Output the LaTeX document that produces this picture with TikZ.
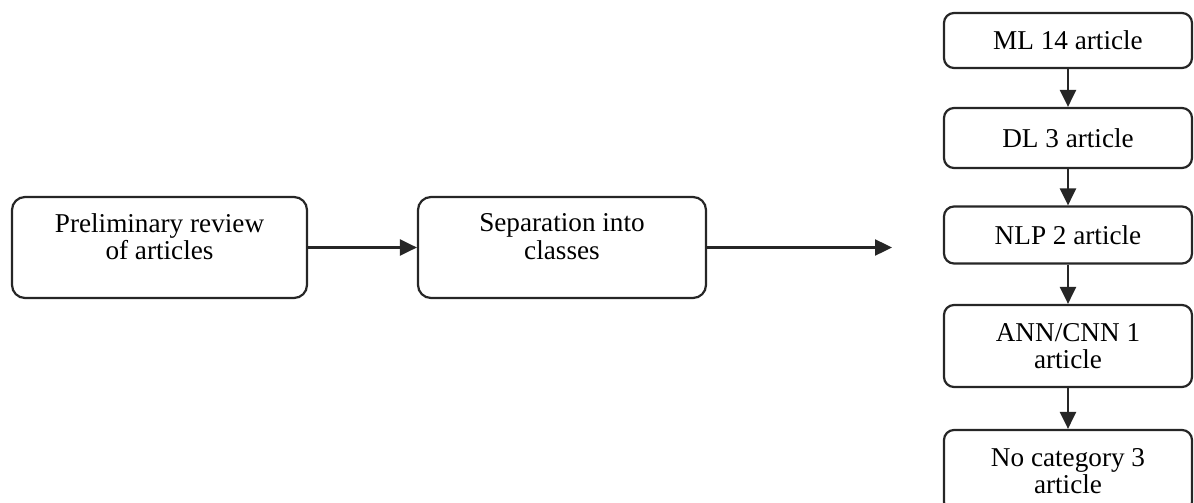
\documentclass[tikz,border=0pt]{standalone}
\usepackage{fontspec}
\setmainfont{Liberation Serif}
\usetikzlibrary{arrows.meta}

\tikzset{
  stage/.style={draw=black!85, line width=1.1pt, rounded corners=6.5pt, align=center,
    minimum height=50.5pt, inner sep=2pt},
  cls/.style={draw=black!85, line width=1.1pt, rounded corners=5pt, align=center,
    minimum width=124pt, inner sep=2pt},
  flow/.style={draw=black!85, line width=1.2pt, -{Triangle[length=8.5pt,width=8pt]}}
}

\begin{document}
\begin{tikzpicture}[x=0.5pt,y=-0.5pt,font=\fontsize{13.6}{13.8}\selectfont]

            \useasboundingbox (0,0) rectangle (1194,503);
            \clip (0,0) rectangle (1194,503);

            % review steps
            \node[stage, minimum width=147.5pt] (review) at (159.5,247.5) {Preliminary review\\of articles\\[-3pt]\mbox{}};
            \node[stage, minimum width=144pt] (separation) at (562,247.5) {Separation into\\classes\\[-3pt]\mbox{}};
            \coordinate (classes) at (892,247.5);

            % classes
            \node[cls, minimum height=27.5pt] (ml) at (1068,40.5) {ML 14 article};
            \node[cls, minimum height=30pt] (dl) at (1068,138) {DL 3 article};
            \node[cls, minimum height=28.5pt] (nlp) at (1068,235) {NLP 2 article};
            \node[cls, minimum height=41pt] (ann) at (1068,346) {ANN/CNN 1\\article};
            \node[cls, minimum height=41pt] (nocat) at (1068,471) {No category 3\\article};

            % arrows
            \draw[flow] (review) -- (separation);
            \draw[flow] (separation) -- (classes);

            \draw[flow] (ml) -- (dl);
            \draw[flow] (dl) -- (nlp);
            \draw[flow] (nlp) -- (ann);
            \draw[flow] (ann) -- (nocat);

        \end{tikzpicture}
\end{document}
